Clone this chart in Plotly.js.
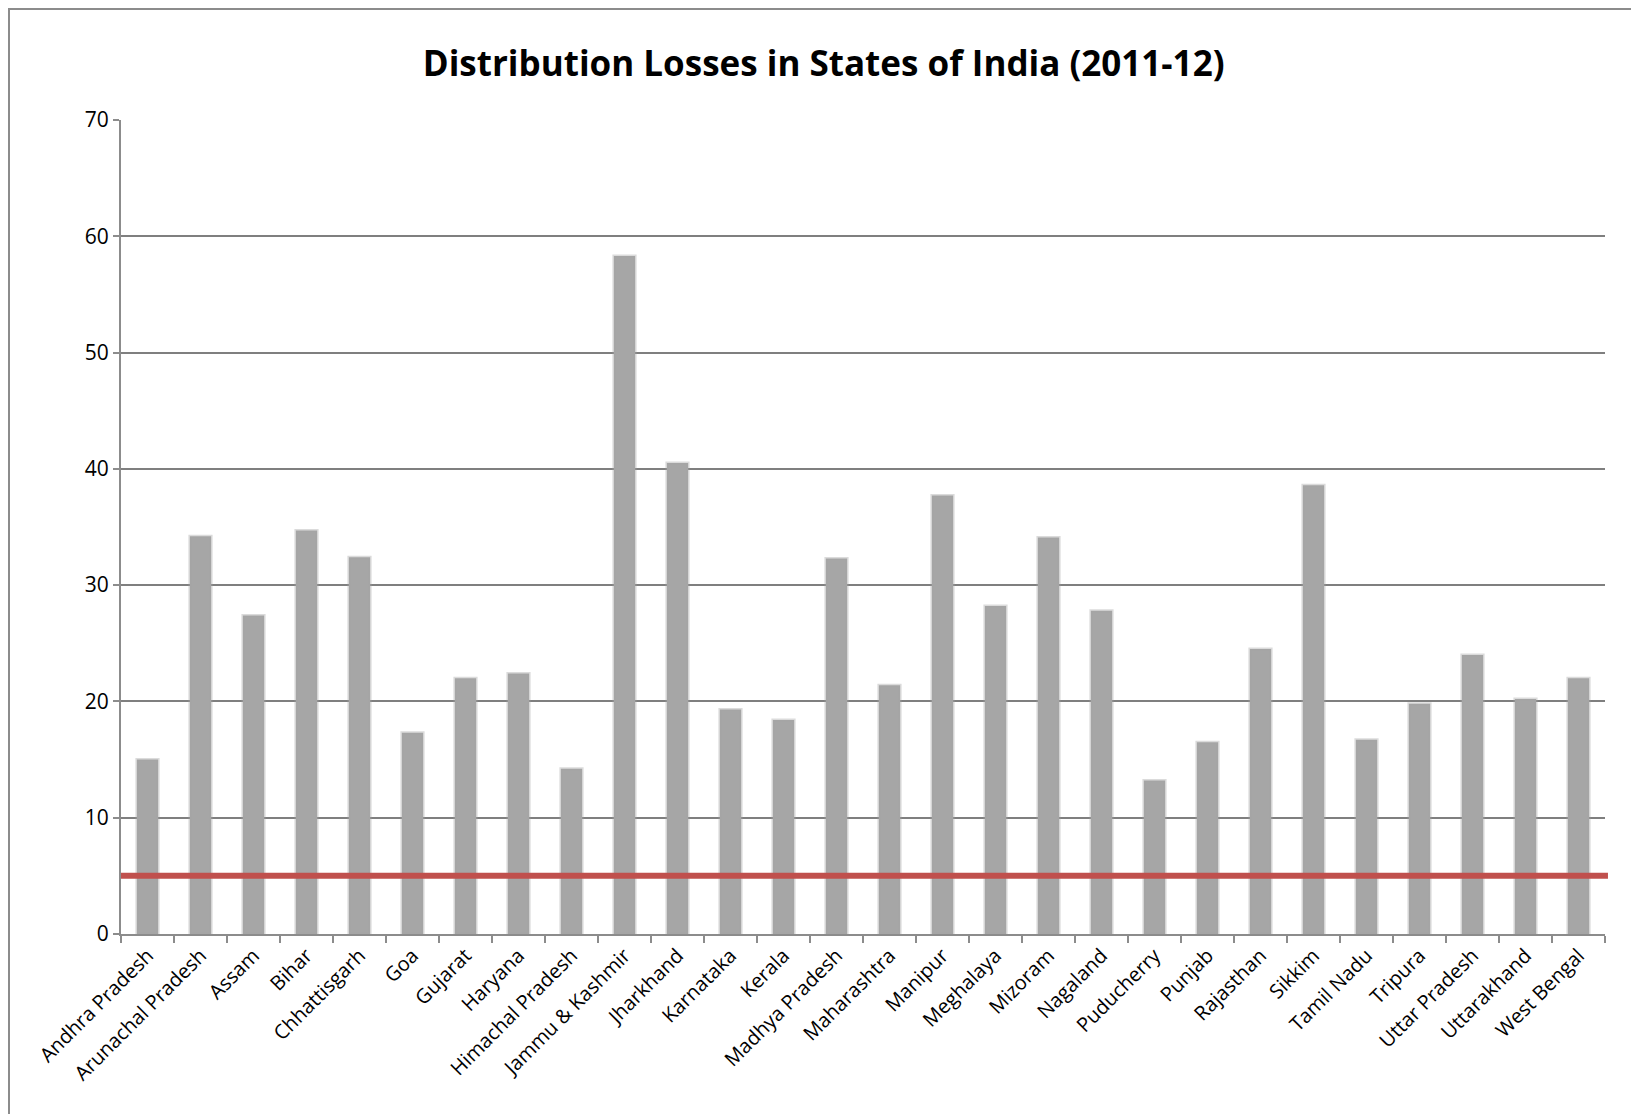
<!DOCTYPE html>
<html>
<head>
<meta charset="utf-8">
<script src="https://cdn.plot.ly/plotly-3.0.1.min.js"></script>
<style>
  html, body { margin: 0; padding: 0; background: #fff; }
  #chart { width: 1631px; height: 1114px; }
  #frame { position: absolute; left: 8px; top: 8px; width: 1640px; height: 1120px;
           border: 2px solid #8c8c8c; pointer-events: none; box-sizing: border-box; }
</style>
</head>
<body>
<div id="chart"></div>
<div id="frame"></div>
<script>
const states = [
  "Andhra Pradesh", "Arunachal Pradesh", "Assam", "Bihar", "Chhattisgarh", "Goa",
  "Gujarat", "Haryana", "Himachal Pradesh", "Jammu & Kashmir", "Jharkhand",
  "Karnataka", "Kerala", "Madhya Pradesh", "Maharashtra", "Manipur", "Meghalaya",
  "Mizoram", "Nagaland", "Puducherry", "Punjab", "Rajasthan", "Sikkim",
  "Tamil Nadu", "Tripura", "Uttar Pradesh", "Uttarakhand", "West Bengal"
];
const lossPercent = [
  15.0, 34.2, 27.4, 34.7, 32.4, 17.3,
  22.0, 22.4, 14.2, 58.3, 40.5,
  19.3, 18.4, 32.3, 21.4, 37.7, 28.2,
  34.1, 27.8, 13.2, 16.5, 24.5, 38.6,
  16.7, 19.8, 24.0, 20.2, 22.0
];
const targetLoss = 5;
const yTicks = [0, 10, 20, 30, 40, 50, 60, 70];

const font = "'Open Sans', 'DejaVu Sans', sans-serif";

const data = [{
  type: "bar",
  x: states,
  y: lossPercent,
  marker: { color: "#a6a6a6", line: { color: "rgba(166,166,166,0.4)", width: 3 } },
  hoverinfo: "x+y"
}];

const layout = {
  width: 1631,
  height: 1114,
  paper_bgcolor: "#ffffff",
  plot_bgcolor: "#ffffff",
  margin: { l: 121, r: 26, t: 120, b: 180 },
  showlegend: false,
  bargap: 0.6,
  title: {
    text: "Distribution Losses in States of India (2011-12)",
    font: { family: font, size: 35, color: "#000", weight: 700 },
    x: 0.505, xanchor: "center", xref: "container",
    y: 0.943, yanchor: "middle", yref: "container"
  },
  xaxis: {
    type: "category",
    tickangle: -45,
    tickson: "boundaries",
    ticks: "outside",
    ticklen: 7,
    tickwidth: 2,
    tickcolor: "#8c8c8c",
    showline: true,
    linecolor: "#8c8c8c",
    linewidth: 2,
    showgrid: false,
    tickfont: { family: font, size: 20, color: "#000" }
  },
  yaxis: {
    range: [0, 70],
    tickvals: yTicks,
    ticktext: yTicks.map(String),
    ticks: "outside",
    ticklen: 6,
    tickwidth: 2,
    tickcolor: "#8c8c8c",
    showline: true,
    linecolor: "#8c8c8c",
    linewidth: 2,
    showgrid: true,
    gridcolor: "#7f7f7f",
    gridwidth: 2,
    zeroline: false,
    tickfont: { family: font, size: 21, color: "#000" }
  },
  shapes: [{
    type: "line",
    xref: "paper", yref: "y",
    x0: 0, x1: 1.002,
    y0: targetLoss, y1: targetLoss,
    line: { color: "#c0504d", width: 6 }
  }]
};

Plotly.newPlot("chart", data, layout, { displayModeBar: false, staticPlot: true });
</script>
</body>
</html>
